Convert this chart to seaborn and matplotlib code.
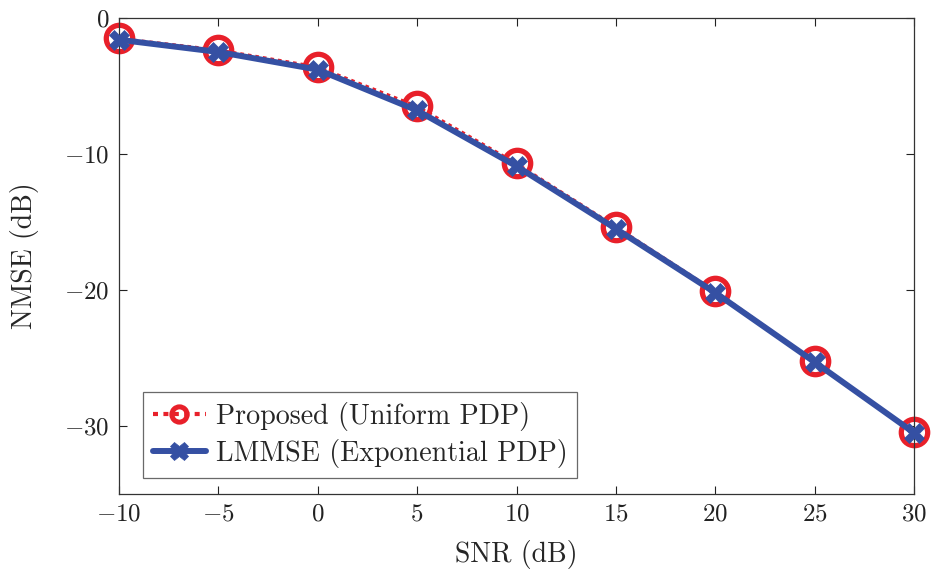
import matplotlib
matplotlib.use("Agg")
import matplotlib.pyplot as plt
import seaborn as sns
import pandas as pd

snr = [-10, -5, 0, 5, 10, 15, 20, 25, 30]
proposed = [-1.5, -2.35, -3.6, -6.5, -10.7, -15.35, -20.1, -25.25, -30.45]
lmmse = [-1.6, -2.5, -3.8, -6.8, -10.9, -15.5, -20.2, -25.3, -30.5]
labels = ["Proposed (Uniform PDP)", "LMMSE (Exponential PDP)"]
xticks = [-10, -5, 0, 5, 10, 15, 20, 25, 30]
yticks = [-30, -20, -10, 0]

sns.set_theme(style="ticks")
plt.rcParams["font.family"] = ["cmr10", "DejaVu Serif"]
plt.rcParams["mathtext.fontset"] = "cm"
plt.rcParams["axes.formatter.use_mathtext"] = True
plt.rcParams["axes.unicode_minus"] = True

red = "#e8202a"
blue = "#3550a3"

fig = plt.figure(figsize=(9.34, 5.76), dpi=100)
ax = fig.add_axes([0.1274, 0.1424, 0.8512, 0.8264])

df1 = pd.DataFrame({"x": snr, "y": proposed})
df2 = pd.DataFrame({"x": snr, "y": lmmse})

sns.lineplot(data=df1, x="x", y="y", ax=ax, color=red, lw=2.2,
             linestyle=(0, (1.2, 1.3)), marker="o", markersize=19,
             markerfacecolor="none", markeredgecolor=red, markeredgewidth=3.8,
             label=labels[0], zorder=2)
sns.lineplot(data=df2, x="x", y="y", ax=ax, color=blue, lw=4.3,
             marker="X", markersize=14, markerfacecolor=blue,
             markeredgecolor=blue, markeredgewidth=0.5,
             label=labels[1], zorder=3)

ax.set_xlim(-10, 30)
ax.set_ylim(-35, 0)
ax.set_xticks(xticks)
ax.set_yticks(yticks)
ax.set_xlabel("SNR (dB)", fontsize=20, labelpad=10)
ax.set_ylabel("NMSE (dB)", fontsize=20, labelpad=18)
ax.tick_params(direction="in", top=True, right=True, length=6, width=0.8,
               labelsize=18, colors="#222222", pad=7)
for s in ax.spines.values():
    s.set_visible(True)
    s.set_linewidth(0.9)
    s.set_color("#333333")
for ln in ax.get_lines():
    ln.set_clip_on(False)

leg = ax.legend(loc="lower left", bbox_to_anchor=(0.03, 0.034), fontsize=20.2,
                frameon=True, fancybox=False, edgecolor="#444444",
                handlelength=1.9, handletextpad=0.35, borderpad=0.35,
                labelspacing=0.3, borderaxespad=0.0)
leg.get_frame().set_linewidth(0.9)
h = leg.legend_handles
h[0].set_markersize(11)
h[0].set_markeredgewidth(3.6)
h[0].set_linewidth(3.0)
h[1].set_markersize(13)

fig.savefig("out.png", dpi=100)
